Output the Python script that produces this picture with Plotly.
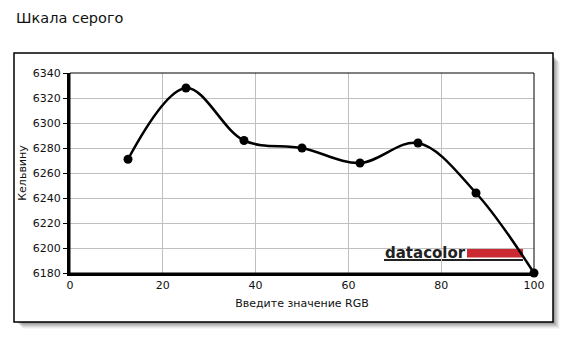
import plotly.graph_objects as go

x_vals = [12.5, 25, 37.5, 50, 62.5, 75, 87.5, 100]
kelvin = [6271, 6328, 6286, 6280, 6268, 6284, 6244, 6180]
x_ticks = [0, 20, 40, 60, 80, 100]
y_ticks = [6180, 6200, 6220, 6240, 6260, 6280, 6300, 6320, 6340]

W, H = 574, 342
L, R, T, B = 70, 534, 73, 273


def px(x):
    return (x - L) / (R - L)


def py(y):
    return (B - y) / (B - T)


FONT = "DejaVu Sans"

fig = go.Figure()
fig.add_trace(go.Scatter(
    x=x_vals, y=kelvin, mode="lines+markers",
    line=dict(color="black", width=2.5, shape="spline", smoothing=1.0),
    marker=dict(color="black", size=9),
    cliponaxis=False, showlegend=False,
))

shapes = []
# shadow
for i, op in enumerate([0.10, 0.10, 0.09, 0.08, 0.07, 0.05, 0.03]):
    off = 1 + i
    shapes.append(dict(type="rect", xref="paper", yref="paper",
                       x0=px(14 + off + 2), x1=px(553 + off),
                       y0=py(322 + off), y1=py(53 + off + 2),
                       line=dict(width=0), fillcolor=f"rgba(0,0,0,{op})",
                       layer="below"))
# outer box
shapes.append(dict(type="rect", xref="paper", yref="paper",
                   x0=px(14), x1=px(553), y0=py(322), y1=py(53),
                   line=dict(color="black", width=1.5), fillcolor="white",
                   layer="below"))
# plot border (thin)
shapes.append(dict(type="rect", xref="paper", yref="paper",
                   x0=0, x1=1, y0=0, y1=1,
                   line=dict(color="black", width=1), layer="above"))
# logo background
shapes.append(dict(type="rect", xref="paper", yref="paper",
                   x0=px(382), x1=px(525), y0=py(262), y1=py(245),
                   line=dict(width=0), fillcolor="white", layer="between"))
# red bar
shapes.append(dict(type="rect", xref="paper", yref="paper",
                   x0=px(467), x1=px(523), y0=py(257.5), y1=py(249),
                   line=dict(width=0), fillcolor="#cc2a33", layer="between"))
# underline
shapes.append(dict(type="line", xref="paper", yref="paper",
                   x0=px(384), x1=px(523), y0=py(260), y1=py(260),
                   line=dict(color="#222222", width=2), layer="between"))

fig.update_layout(
    width=W, height=H,
    margin=dict(l=L, r=W - R, t=T, b=H - B, pad=0),
    paper_bgcolor="white", plot_bgcolor="rgba(0,0,0,0)",
    font=dict(family=FONT, size=11, color="#111111"),
    shapes=shapes,
    annotations=[
        dict(text="Шкала серого", xref="paper", yref="paper",
             x=px(14), y=py(18), xanchor="left", yanchor="middle",
             showarrow=False, font=dict(family=FONT, size=14.5, color="#111111")),
        dict(text="<b>datacolor</b>", xref="paper", yref="paper",
             x=px(383), y=py(252.5), xanchor="left", yanchor="middle",
             showarrow=False, font=dict(family=FONT, size=15, color="#222222")),
    ],
    xaxis=dict(
        range=[0, 100], tickvals=x_ticks, ticktext=[str(v) for v in x_ticks],
        showgrid=True, gridcolor="#c0c0c0", gridwidth=1,
        showline=True, linecolor="black", linewidth=3,
        ticks="", zeroline=False,
        title=dict(text="Введите значение RGB", standoff=9,
                   font=dict(family=FONT, size=11)),
        tickfont=dict(family=FONT, size=11),
    ),
    yaxis=dict(
        range=[6180, 6340], tickvals=y_ticks, ticktext=[str(v) for v in y_ticks],
        showgrid=True, gridcolor="#c0c0c0", gridwidth=1,
        showline=True, linecolor="black", linewidth=3,
        ticks="outside", ticklen=4, tickcolor="black", tickwidth=1,
        zeroline=False,
        title=dict(text="Кельвину", standoff=4,
                   font=dict(family=FONT, size=11)),
        tickfont=dict(family=FONT, size=11),
    ),
)

fig.write_html("out.html")
